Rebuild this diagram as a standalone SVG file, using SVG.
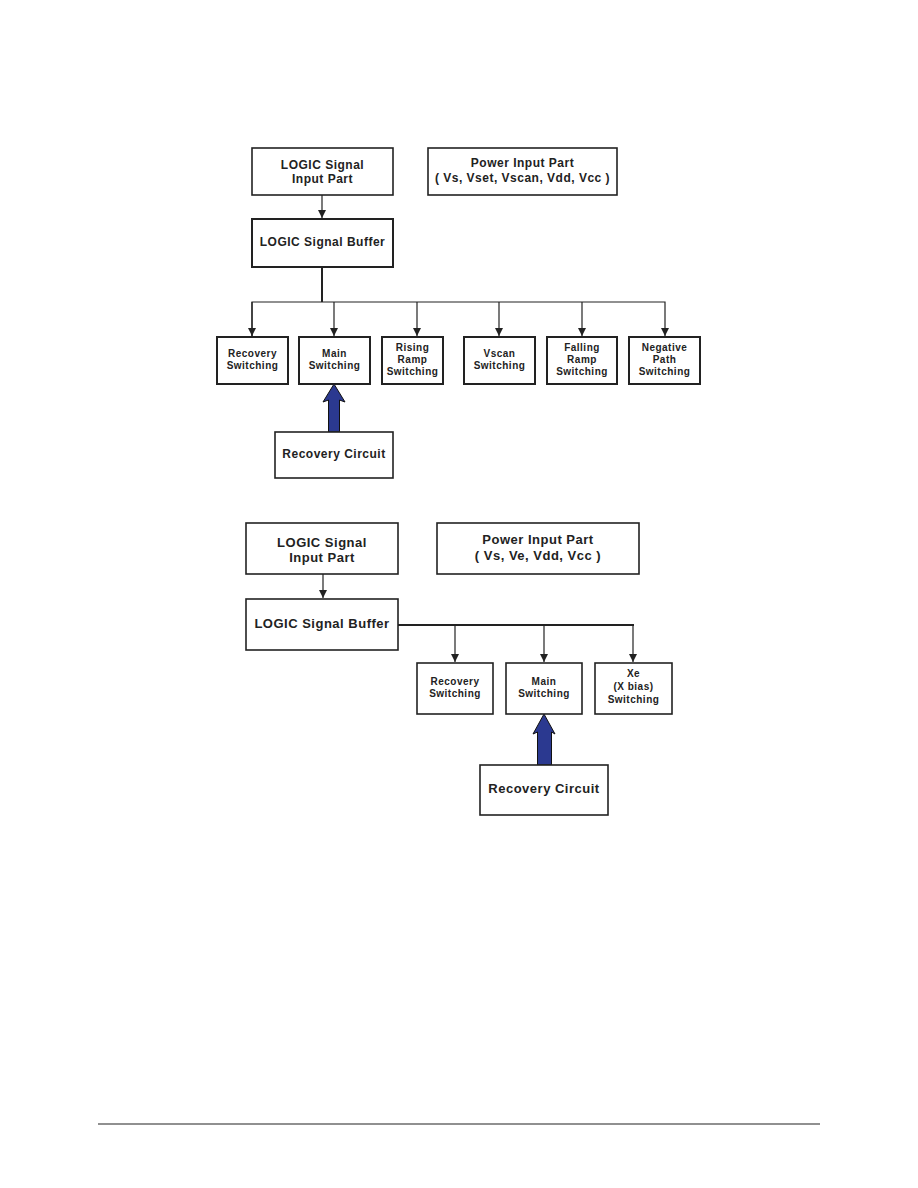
<svg xmlns="http://www.w3.org/2000/svg" width="918" height="1188" viewBox="0 0 918 1188">
<style>
.box{fill:#fff;stroke:#222;stroke-width:1.6}
.t{font-family:"Liberation Sans",Arial,sans-serif;font-weight:bold;fill:#222;text-anchor:middle}
.s{font-size:10px;letter-spacing:0.5px}
.m{font-size:12px;letter-spacing:0.5px}
.l{font-size:13px;letter-spacing:0.5px}
.c{fill:none;stroke:#222;stroke-width:1.2}
.k{fill:none;stroke:#222;stroke-width:2}
.big{fill:#2b3990;stroke:#111;stroke-width:1}
</style>
<defs>
<marker id="ah" viewBox="0 0 8 10" refX="8" refY="5" markerWidth="8" markerHeight="10" markerUnits="userSpaceOnUse" orient="auto">
<path d="M0,1 L8,5 L0,9 Z" fill="#222"/>
</marker>
</defs>
<rect width="918" height="1188" fill="#fff"/>

<g id="connectors">
<line class="c" x1="322" y1="195" x2="322" y2="218" marker-end="url(#ah)"/>
<line class="k" x1="322" y1="267" x2="322" y2="302"/>
<polyline class="c" points="252,336 252,302 665,302 665,336" marker-end="url(#ah)"/>
<line class="c" x1="252" y1="302" x2="252" y2="336" marker-end="url(#ah)"/>
<line class="c" x1="334" y1="302" x2="334" y2="336" marker-end="url(#ah)"/>
<line class="c" x1="417" y1="302" x2="417" y2="336" marker-end="url(#ah)"/>
<line class="c" x1="499" y1="302" x2="499" y2="336" marker-end="url(#ah)"/>
<line class="c" x1="582" y1="302" x2="582" y2="336" marker-end="url(#ah)"/>
<path class="big" d="M334,384 L345,402 L339.5,400 L339.5,432 L328.5,432 L328.5,400 L323,402 Z"/>

<line class="c" x1="323" y1="574" x2="323" y2="598" marker-end="url(#ah)"/>
<polyline class="k" points="398,625 634,625"/>
<line class="c" x1="455" y1="625" x2="455" y2="662" marker-end="url(#ah)"/>
<line class="c" x1="544" y1="625" x2="544" y2="662" marker-end="url(#ah)"/>
<line class="c" x1="633" y1="625" x2="633" y2="662" marker-end="url(#ah)"/>
<path class="big" d="M544,714 L555,734 L551.5,732 L551.5,765 L537.5,765 L537.5,732 L533,734 Z"/>
</g>

<g id="d1-logic-input"><rect class="box" x="252" y="148" width="141" height="47"/>
<text class="t m" x="322.5" y="169">LOGIC Signal</text><text class="t m" x="322.5" y="183">Input Part</text></g>
<g id="d1-power"><rect class="box" x="428" y="148" width="189" height="47"/>
<text class="t m" x="522.5" y="167">Power Input Part</text><text class="t m" x="522.5" y="182">( Vs, Vset, Vscan, Vdd, Vcc )</text></g>
<g id="d1-buffer"><rect class="box" x="252" y="219" width="141" height="48" style="stroke-width:2"/>
<text class="t m" x="322.5" y="246">LOGIC Signal Buffer</text></g>
<g id="d1-recovery-sw"><rect class="box" x="217" y="337" width="71" height="47" style="stroke-width:2"/>
<text class="t s" x="252.5" y="357">Recovery</text><text class="t s" x="252.5" y="369">Switching</text></g>
<g id="d1-main-sw"><rect class="box" x="299" y="337" width="71" height="47" style="stroke-width:2"/>
<text class="t s" x="334.5" y="357">Main</text><text class="t s" x="334.5" y="369">Switching</text></g>
<g id="d1-rising"><rect class="box" x="382" y="337" width="61" height="47" style="stroke-width:2"/>
<text class="t s" x="412.5" y="351">Rising</text><text class="t s" x="412.5" y="363">Ramp</text><text class="t s" x="412.5" y="375">Switching</text></g>
<g id="d1-vscan"><rect class="box" x="464" y="337" width="71" height="47" style="stroke-width:2"/>
<text class="t s" x="499.5" y="357">Vscan</text><text class="t s" x="499.5" y="369">Switching</text></g>
<g id="d1-falling"><rect class="box" x="547" y="337" width="70" height="47" style="stroke-width:2"/>
<text class="t s" x="582" y="351">Falling</text><text class="t s" x="582" y="363">Ramp</text><text class="t s" x="582" y="375">Switching</text></g>
<g id="d1-negative"><rect class="box" x="629" y="337" width="71" height="47" style="stroke-width:2"/>
<text class="t s" x="664.5" y="351">Negative</text><text class="t s" x="664.5" y="363">Path</text><text class="t s" x="664.5" y="375">Switching</text></g>
<g id="d1-recovery-circuit"><rect class="box" x="275" y="432" width="118" height="46"/>
<text class="t m" x="334" y="458">Recovery Circuit</text></g>

<g id="d2-logic-input"><rect class="box" x="246" y="523" width="152" height="51"/>
<text class="t l" x="322" y="547">LOGIC Signal</text><text class="t l" x="322" y="562">Input Part</text></g>
<g id="d2-power"><rect class="box" x="437" y="523" width="202" height="51"/>
<text class="t l" x="538" y="544">Power Input Part</text><text class="t l" x="538" y="560">( Vs, Ve, Vdd, Vcc )</text></g>
<g id="d2-buffer"><rect class="box" x="246" y="599" width="152" height="51"/>
<text class="t l" x="322" y="628">LOGIC Signal Buffer</text></g>
<g id="d2-recovery-sw"><rect class="box" x="417" y="663" width="76" height="51"/>
<text class="t s" x="455" y="685">Recovery</text><text class="t s" x="455" y="697">Switching</text></g>
<g id="d2-main-sw"><rect class="box" x="506" y="663" width="76" height="51"/>
<text class="t s" x="544" y="685">Main</text><text class="t s" x="544" y="697">Switching</text></g>
<g id="d2-xe"><rect class="box" x="595" y="663" width="77" height="51"/>
<text class="t s" x="633.5" y="677">Xe</text><text class="t s" x="633.5" y="690">(X bias)</text><text class="t s" x="633.5" y="703">Switching</text></g>
<g id="d2-recovery-circuit"><rect class="box" x="480" y="765" width="128" height="50"/>
<text class="t l" x="544" y="793">Recovery Circuit</text></g>

<line x1="98" y1="1124" x2="820" y2="1124" stroke="#222" stroke-width="1.2"/>
</svg>
